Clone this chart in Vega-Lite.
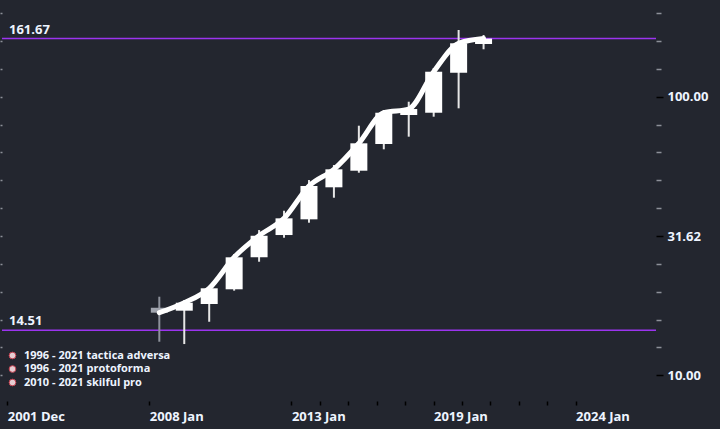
{
  "$schema": "https://vega.github.io/schema/vega-lite/v6.json",
  "width": 654,
  "height": 401,
  "autosize": {"type": "none"},
  "padding": {"left": 2, "top": 0, "right": 64, "bottom": 28},
  "background": "#23262f",
  "config": {
    "view": {"stroke": null},
    "font": "Open Sans"
  },
  "datasets": {
    "candles": [
      {"year": 2008, "open": 17.48, "high": 19.15, "low": 13.2, "close": 16.78},
      {"year": 2009, "open": 17.06, "high": 18.63, "low": 12.95, "close": 18.22},
      {"year": 2010, "open": 18.03, "high": 20.92, "low": 15.57, "close": 20.53},
      {"year": 2011, "open": 20.36, "high": 27.25, "low": 20.13, "close": 26.52},
      {"year": 2012, "open": 26.52, "high": 33.22, "low": 25.57, "close": 31.7},
      {"year": 2013, "open": 31.88, "high": 38.97, "low": 31.18, "close": 36.6},
      {"year": 2014, "open": 36.3, "high": 50.23, "low": 35.3, "close": 47.82},
      {"year": 2015, "open": 47.3, "high": 56.87, "low": 43.4, "close": 54.88},
      {"year": 2016, "open": 54.25, "high": 78.69, "low": 53.36, "close": 68.04},
      {"year": 2017, "open": 67.65, "high": 89.59, "low": 64.75, "close": 87.6},
      {"year": 2018, "open": 85.97, "high": 95.95, "low": 71.87, "close": 90.32},
      {"year": 2019, "open": 87.6, "high": 126.8, "low": 84.78, "close": 122.94},
      {"year": 2020, "open": 121.9, "high": 173.6, "low": 90.85, "close": 155.5},
      {"year": 2021, "open": 154.6, "high": 166.5, "low": 148.0, "close": 161.67}
    ],
    "levels": [
      {"label": "161.67", "value": 161.67},
      {"label": "14.51", "value": 14.51}
    ],
    "series": [
      {"name": "1996 - 2021 tactica adversa"},
      {"name": "1996 - 2021 protoforma"},
      {"name": "2010 - 2021 skilful pro"}
    ]
  },
  "resolve": {"axis": {"x": "independent", "y": "independent"}},
  "layer": [
    {
      "data": {"name": "levels"},
      "mark": {"type": "rule", "color": "#9b34ef", "strokeWidth": 1.5},
      "encoding": {
        "y": {"field": "value", "type": "quantitative",
              "scale": {"type": "log", "domain": [8.088, 222.4], "nice": false, "zero": false},
              "axis": null}
      }
    },
    {
      "data": {"name": "levels"},
      "mark": {"type": "text", "align": "left", "baseline": "alphabetic", "dx": 2, "dy": -5,
               "font": "Open Sans", "fontWeight": "bold", "fontSize": 13, "color": "#eef4ff"},
      "encoding": {
        "x": {"datum": 2001.893, "type": "quantitative",
              "scale": {"domain": [2001.893, 2027.713], "nice": false, "zero": false}, "axis": null},
        "y": {"field": "value", "type": "quantitative",
              "scale": {"type": "log", "domain": [8.088, 222.4], "nice": false, "zero": false},
              "axis": null},
        "text": {"field": "label"}
      }
    },
    {
      "data": {"name": "candles"},
      "mark": {"type": "rule", "strokeWidth": 2},
      "encoding": {
        "x": {"field": "year", "type": "quantitative",
              "scale": {"domain": [2001.893, 2027.713], "nice": false, "zero": false}, "axis": null},
        "y": {"field": "low", "type": "quantitative",
              "scale": {"type": "log", "domain": [8.088, 222.4], "nice": false, "zero": false},
              "axis": {"orient": "left", "values": [10, 12.589, 15.849, 19.953, 25.119, 31.623, 39.811, 50.119, 63.096, 79.433, 100, 125.893, 158.489, 199.526],
                       "labels": false, "domain": false, "grid": false, "tickColor": "#8d9099", "tickSize": 2, "tickWidth": 1.5, "title": null}},
        "y2": {"field": "high"},
        "color": {"condition": {"test": "datum.close < datum.open", "value": "#8e929c"}, "value": "#e6e6e6"}
      }
    },
    {
      "data": {"name": "candles"},
      "mark": {"type": "bar", "width": 17},
      "encoding": {
        "x": {"field": "year", "type": "quantitative",
              "scale": {"domain": [2001.893, 2027.713], "nice": false, "zero": false},
              "axis": {"values": [2001.905, 2007.601, 2013.297, 2014.436, 2015.575, 2016.714, 2017.854, 2018.993, 2020.132, 2021.271, 2022.41, 2023.55, 2024.689],
                       "labelExpr": "datum.value < 2003 ? '2001 Dec' : abs(datum.value - 2007.601) < 0.01 ? '2008 Jan' : abs(datum.value - 2013.297) < 0.01 ? '2013 Jan' : abs(datum.value - 2018.993) < 0.01 ? '2019 Jan' : abs(datum.value - 2024.689) < 0.01 ? '2024 Jan' : ''",
                       "domain": false, "grid": false, "tickColor": "#000000", "tickSize": 4, "tickWidth": 1.5,
                       "labelAlign": "left", "labelBaseline": "top", "labelPadding": 5, "labelFlush": false, "labelOverlap": false, "labelBound": false,
                       "labelFont": "Open Sans", "labelFontSize": 13, "labelFontWeight": "bold", "labelColor": "#eef4ff", "title": null}},
        "y": {"field": "open", "type": "quantitative",
              "scale": {"type": "log", "domain": [8.088, 222.4], "nice": false, "zero": false},
              "axis": {"orient": "right", "values": [10, 12.589, 15.849, 19.953, 25.119, 31.623, 39.811, 50.119, 63.096, 79.433, 100, 125.893, 158.489, 199.526],
                       "labelExpr": "abs(log(datum.value)/log(10)*2 - round(log(datum.value)/log(10)*2)) < 0.01 ? format(datum.value, '.2f') : ''",
                       "domain": false, "grid": false,
                       "tickColor": {"condition": {"test": "abs(log(datum.value)/log(10)*2 - round(log(datum.value)/log(10)*2)) < 0.01", "value": "#000000"}, "value": "#8d9099"},
                       "tickSize": {"condition": {"test": "abs(log(datum.value)/log(10)*2 - round(log(datum.value)/log(10)*2)) < 0.01", "value": 7}, "value": 5},
                       "tickWidth": 1.5,
                       "labelPadding": 4, "labelFlush": false, "labelOverlap": false, "labelBound": false,
                       "labelFont": "Open Sans", "labelFontSize": 13, "labelFontWeight": "bold", "labelColor": "#eef4ff", "title": null}},
        "y2": {"field": "close"},
        "color": {"condition": {"test": "datum.close < datum.open", "value": "#a0a4ae"}, "value": "#ffffff"}
      }
    },
    {
      "data": {"name": "candles"},
      "mark": {"type": "line", "color": "#ffffff", "strokeWidth": 5, "interpolate": "monotone", "strokeCap": "round"},
      "encoding": {
        "x": {"field": "year", "type": "quantitative",
              "scale": {"domain": [2001.893, 2027.713], "nice": false, "zero": false}, "axis": null},
        "y": {"field": "close", "type": "quantitative",
              "scale": {"type": "log", "domain": [8.088, 222.4], "nice": false, "zero": false},
              "axis": null}
      }
    },
    {
      "data": {"name": "series"},
      "mark": {"type": "point", "filled": true, "opacity": 0},
      "encoding": {
        "color": {"field": "name", "type": "nominal",
                  "scale": {"domain": ["1996 - 2021 tactica adversa", "1996 - 2021 protoforma", "2010 - 2021 skilful pro"],
                            "range": ["#e6cdd2", "#e6cdd2", "#e6cdd2"]},
                  "legend": {"orient": "none", "legendX": 5, "legendY": 350, "title": null, "padding": 0, "offset": 0,
                             "symbolType": "circle", "symbolSize": 45, "symbolOpacity": 1, "symbolStrokeColor": "#c24150", "symbolStrokeWidth": 1,
                             "labelOffset": 6, "rowPadding": 1.5,
                             "labelFont": "Open Sans", "labelFontSize": 11, "labelFontWeight": "bold", "labelColor": "#eef4ff", "labelLimit": 300}}
      }
    }
  ]
}
